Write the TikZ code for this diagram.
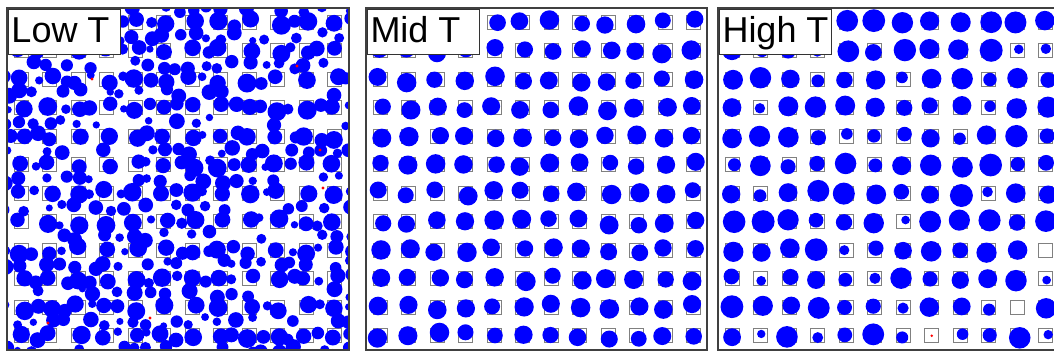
\documentclass[tikz,border=0pt]{standalone}
\usepackage{fontspec}
\setmainfont{Liberation Sans}
\begin{document}
\begin{tikzpicture}[x=1pt,y=1pt,
  panel/.style={draw=black!75,line width=1.3pt},
  site/.style={draw=gray,line width=0.9pt},
  atom/.style={fill=blue},
  imp/.style={fill=red},
  tlabel/.style={draw=black!80,line width=1pt,fill=white,anchor=north west,inner xsep=3pt,inner ysep=3pt,
    text height=30pt,text depth=9pt,font=\fontsize{36}{36}\selectfont}]
\clip (0,0) rectangle (1054,352);
\pgfmathsetseed{4711}
% left: low T, lattice + many interstitials
\begin{scope}
\clip (7,2) rectangle (349,344);
\foreach \i in {0,...,11}{\foreach \j in {0,...,11}{
  \pgfmathsetmacro{\cx}{21.25+28.5*\i}\pgfmathsetmacro{\cy}{16.25+28.5*\j}
  \draw[site] (\cx-7,\cy-7) rectangle ++(14,14);}}
\foreach \i in {0,...,11}{\foreach \j in {0,...,11}{
  \pgfmathsetmacro{\cx}{21.25+28.5*\i}\pgfmathsetmacro{\cy}{16.25+28.5*\j}
  \fill[atom] (\cx+4*rand,\cy+4*rand) circle (7+2.5*rnd);}}
\foreach \a in {0,...,24}{\foreach \b in {0,...,24}{
  \pgfmathsetmacro{\p}{rnd}
  \ifodd\a\relax\ifodd\b\relax\def\p{1}\fi\fi
  \ifdim\p pt<0.66pt
    \fill[atom] (7+14.25*\a+4.5*rand,2+14.25*\b+4.5*rand) circle (3.5+4.5*rnd);
  \fi}}
\foreach \x/\y in {92/273,297/286,323/164,48/29,150/34,320/202}{
  \fill[imp] (\x,\y) circle (1.6);}
\end{scope}
\draw[panel] (7,2) rectangle (349,344);
\node[tlabel] (lowlbl) at (8,343) {\makebox[106pt][l]{Low T}};
% middle: mid T, one atom per site
\begin{scope}
\clip (366,2) rectangle (707,344);
\foreach \i in {0,...,11}{\foreach \j in {0,...,11}{
  \pgfmathsetmacro{\cx}{380.25+28.5*\i}\pgfmathsetmacro{\cy}{16.25+28.5*\j}
  \draw[site] (\cx-7,\cy-7) rectangle ++(14,14);
  \fill[atom] (\cx+3.5*rand,\cy+3.5*rand) circle (7.8+2*rnd);}}
\end{scope}
\draw[panel] (366,2) rectangle (707,344);
\node[tlabel] (midlbl) at (367,343) {\makebox[106pt][l]{Mid T}};
% right: high T, sizes spread, some sites empty
\begin{scope}
\clip (718,2) rectangle (1060,344);
\foreach \i in {0,...,11}{\foreach \j in {0,...,11}{
  \pgfmathsetmacro{\cx}{732.25+28.5*\i}\pgfmathsetmacro{\cy}{16.25+28.5*\j}
  \pgfmathsetmacro{\r}{4+7.5*rnd^0.6}
  \draw[site] (\cx-7,\cy-7) rectangle ++(14,14);
  \ifnum\numexpr\i*100+\j\relax=700 \fill[imp] (\cx,\cy) circle (1.4);
  \else\ifnum\numexpr\i*100+\j\relax=1001 \else\ifnum\numexpr\i*100+\j\relax=1103 \else
    \fill[atom] (\cx+2.5*rand,\cy+2.5*rand) circle (\r);
  \fi\fi\fi}}
\end{scope}
\draw[panel] (718,2) rectangle (1060,344);
\node[tlabel] (highlbl) at (719,343) {\makebox[106pt][l]{High T}};
\end{tikzpicture}
\end{document}
